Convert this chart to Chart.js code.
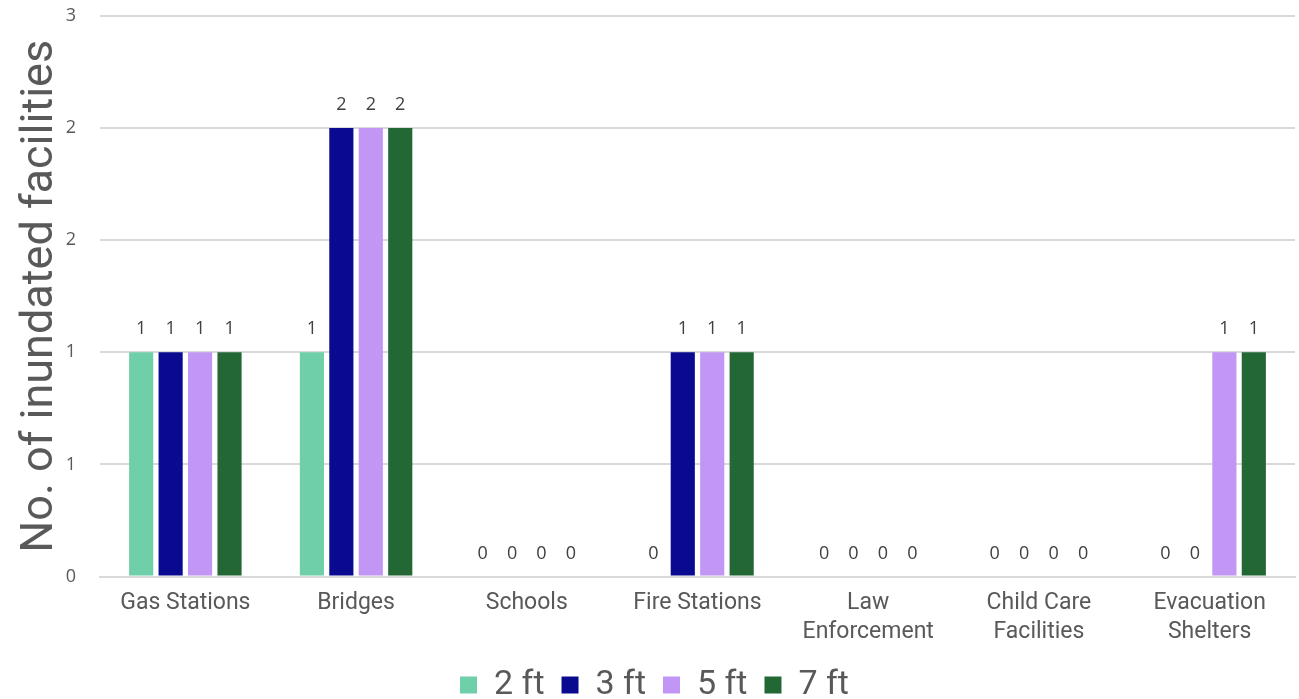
<!DOCTYPE html>
<html>
<head>
<meta charset="utf-8">
<script src="https://cdn.jsdelivr.net/npm/chart.js@4"></script>
<style>
  html, body { margin: 0; padding: 0; background: #ffffff; }
  #wrap { width: 1299px; height: 699px; }
</style>
</head>
<body>
<div id="wrap"><canvas id="c" width="1299" height="699"></canvas></div>
<script>
const categories = ['Gas Stations', 'Bridges', 'Schools', 'Fire Stations', ['Law', 'Enforcement'], ['Child Care', 'Facilities'], ['Evacuation', 'Shelters']];
const seriesNames = ['2 ft', '3 ft', '5 ft', '7 ft'];
const ft2 = [1, 1, 0, 0, 0, 0, 0];
const ft3 = [1, 2, 0, 1, 0, 0, 0];
const ft5 = [1, 2, 0, 1, 0, 0, 1];
const ft7 = [1, 2, 0, 1, 0, 0, 1];
const yTicks = [0, 0.5, 1, 1.5, 2, 2.5];
const colors = ['#6fcfa8', '#0a0a91', '#c196f5', '#236735'];

// Value labels drawn above each bar
const barLabels = {
  id: 'barLabels',
  afterDatasetsDraw(chart) {
    const ctx = chart.ctx;
    ctx.save();
    ctx.font = '18px "Open Sans"';
    ctx.fillStyle = '#404040';
    ctx.textAlign = 'center';
    ctx.textBaseline = 'bottom';
    chart.data.datasets.forEach((ds, i) => {
      const meta = chart.getDatasetMeta(i);
      meta.data.forEach((bar, j) => {
        ctx.fillText(String(ds.data[j]), bar.x, bar.y - 14);
      });
    });
    ctx.restore();
  }
};

// Keep the legend band compact so the plot area extends lower
const compactLegend = {
  id: 'compactLegend',
  beforeInit(chart) {
    const legend = chart.legend;
    if (!legend) return;
    const fit = legend.fit;
    legend.fit = function () {
      fit.call(this);
      this.height = 48;
    };
  }
};

new Chart(document.getElementById('c'), {
  type: 'bar',
  data: {
    labels: categories,
    datasets: [ft2, ft3, ft5, ft7].map((d, i) => ({
      label: seriesNames[i],
      data: d,
      backgroundColor: colors[i],
      borderWidth: 0,
      categoryPercentage: 0.69,
      barPercentage: 0.82
    }))
  },
  options: {
    responsive: false,
    animation: false,
    layout: { padding: { top: 16, right: 4, left: 14, bottom: 0 } },
    plugins: {
      legend: {
        position: 'bottom',
        labels: {
          font: { family: 'Roboto', size: 34 },
          color: '#595959',
          boxWidth: 17,
          boxHeight: 17,
          padding: 17
        }
      },
      tooltip: { enabled: false }
    },
    scales: {
      x: {
        grid: { display: false },
        border: { color: '#d9d9d9', width: 2 },
        ticks: {
          font: { family: 'Roboto', size: 23, lineHeight: 1.27 },
          color: '#595959',
          maxRotation: 0,
          autoSkip: false,
          padding: 4
        }
      },
      y: {
        min: 0,
        max: 2.5,
        afterBuildTicks(scale) { scale.ticks = yTicks.map(v => ({ value: v })); },
        afterFit(scale) {
          scale.width = 86;
          scale.paddingTop = 0;
          scale.paddingBottom = 0;
        },
        grid: { color: '#d9d9d9', lineWidth: 2, drawTicks: false },
        border: { display: false },
        ticks: {
          font: { family: 'Open Sans', size: 18 },
          color: '#595959',
          padding: 24,
          callback: v => String(Math.round(v))
        },
        title: {
          display: true,
          text: 'No. of inundated facilities',
          font: { family: 'Roboto', size: 45 },
          color: '#595959',
          padding: { top: 0, bottom: 0 }
        }
      }
    }
  },
  plugins: [barLabels, compactLegend]
});
</script>
</body>
</html>
